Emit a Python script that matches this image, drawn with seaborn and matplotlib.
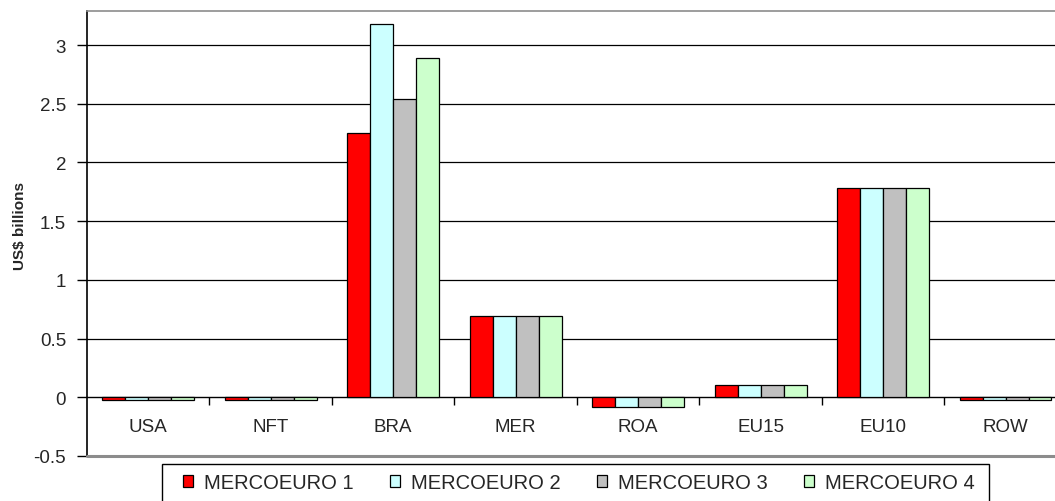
import matplotlib
matplotlib.use("Agg")
import matplotlib.pyplot as plt
import pandas as pd
import seaborn as sns
from matplotlib.patches import Rectangle
from matplotlib.ticker import FixedLocator, FixedFormatter

# values (US$ billions)
regions = ["USA", "NFT", "BRA", "MER", "ROA", "EU15", "EU10", "ROW"]
scenarios = ["MERCOEURO 1", "MERCOEURO 2", "MERCOEURO 3", "MERCOEURO 4"]
merco1 = [-0.02, -0.02, 2.25, 0.69, -0.08, 0.105, 1.78, -0.02]
merco2 = [-0.02, -0.02, 3.18, 0.69, -0.08, 0.105, 1.78, -0.02]
merco3 = [-0.02, -0.02, 2.54, 0.69, -0.08, 0.105, 1.78, -0.02]
merco4 = [-0.02, -0.02, 2.89, 0.69, -0.08, 0.105, 1.78, -0.02]
colors = ["#FF0000", "#CCFFFF", "#C0C0C0", "#CCFFCC"]
yticks = [-0.5, 0, 0.5, 1, 1.5, 2, 2.5, 3]
ytick_labels = ["-0.5", "0", "0.5", "1", "1.5", "2", "2.5", "3"]

rows = []
for name, vals in zip(scenarios, [merco1, merco2, merco3, merco4]):
    for r, v in zip(regions, vals):
        rows.append({"region": r, "scenario": name, "value": v})
df = pd.DataFrame(rows)

sns.set_style("white")
plt.rcParams["font.family"] = ["Liberation Sans", "DejaVu Sans"]
plt.rcParams["axes.unicode_minus"] = False

W, H = 1055, 502
fig = plt.figure(figsize=(W / 100, H / 100), dpi=100)
# plot area runs past the right edge of the picture, as in the reference
ax = fig.add_axes([87 / W, 1 - 457 / H, (1066.8 - 87) / W, (457 - 12) / H])

sns.barplot(data=df, x="region", y="value", hue="scenario", order=regions,
            hue_order=scenarios, palette=colors, width=0.75, gap=0,
            edgecolor="black", linewidth=0.9, saturation=1, ax=ax, zorder=3)

ax.set_ylim(-0.5, 3.29)
ax.set_xlim(-0.5, len(regions) - 0.5)
ax.yaxis.set_major_locator(FixedLocator(yticks))
ax.yaxis.set_major_formatter(FixedFormatter(ytick_labels))
ax.tick_params(axis="y", which="major", direction="out", length=7, width=1,
               color="black", labelsize=13.5, pad=8, left=True)

# x axis sits on zero, ticks between the categories
ax.spines["bottom"].set_position(("data", 0))
ax.spines["bottom"].set_color("black")
ax.spines["bottom"].set_linewidth(1)
ax.xaxis.set_minor_locator(FixedLocator([i + 0.5 for i in range(len(regions) - 1)]))
ax.tick_params(axis="x", which="major", length=0, labelsize=13.5, pad=15)
ax.tick_params(axis="x", which="minor", direction="out", length=6, width=1,
               color="black", bottom=True)

ax.spines["left"].set_color("black")
ax.spines["left"].set_linewidth(1.2)
ax.spines["top"].set_color("#8C8C8C")
ax.spines["top"].set_linewidth(1.2)
ax.spines["right"].set_color("#8C8C8C")
ax.axhline(-0.5, color="#8C8C8C", lw=2.2, clip_on=False, zorder=4)

ax.grid(axis="y", color="black", lw=0.9)
ax.set_axisbelow(True)
for line, t in zip(ax.get_ygridlines(), yticks):
    if t <= 0:
        line.set_visible(False)

ax.set_xlabel("")
ax.set_ylabel("US$ billions", fontsize=11, fontweight="bold")
ax.yaxis.set_label_coords(-0.061, 0.518)

# legend entries without frame, box drawn separately (cut by the bottom edge)
handles, labels = ax.get_legend_handles_labels()
ax.legend(handles, labels, ncol=4, loc="upper left",
          bbox_to_anchor=(183 / W, 1 - 474 / H), bbox_transform=fig.transFigure,
          fontsize=14.5, frameon=False, handlelength=0.5, handleheight=0.5,
          handletextpad=0.55, columnspacing=1.8, borderpad=0, borderaxespad=0)
fig.patches.append(Rectangle((162 / W, -0.05), (989 - 162) / W, 0.05 + 1 - 465 / H,
                             transform=fig.transFigure, facecolor="none",
                             edgecolor="black", lw=1))

fig.savefig("out.png", dpi=100)
